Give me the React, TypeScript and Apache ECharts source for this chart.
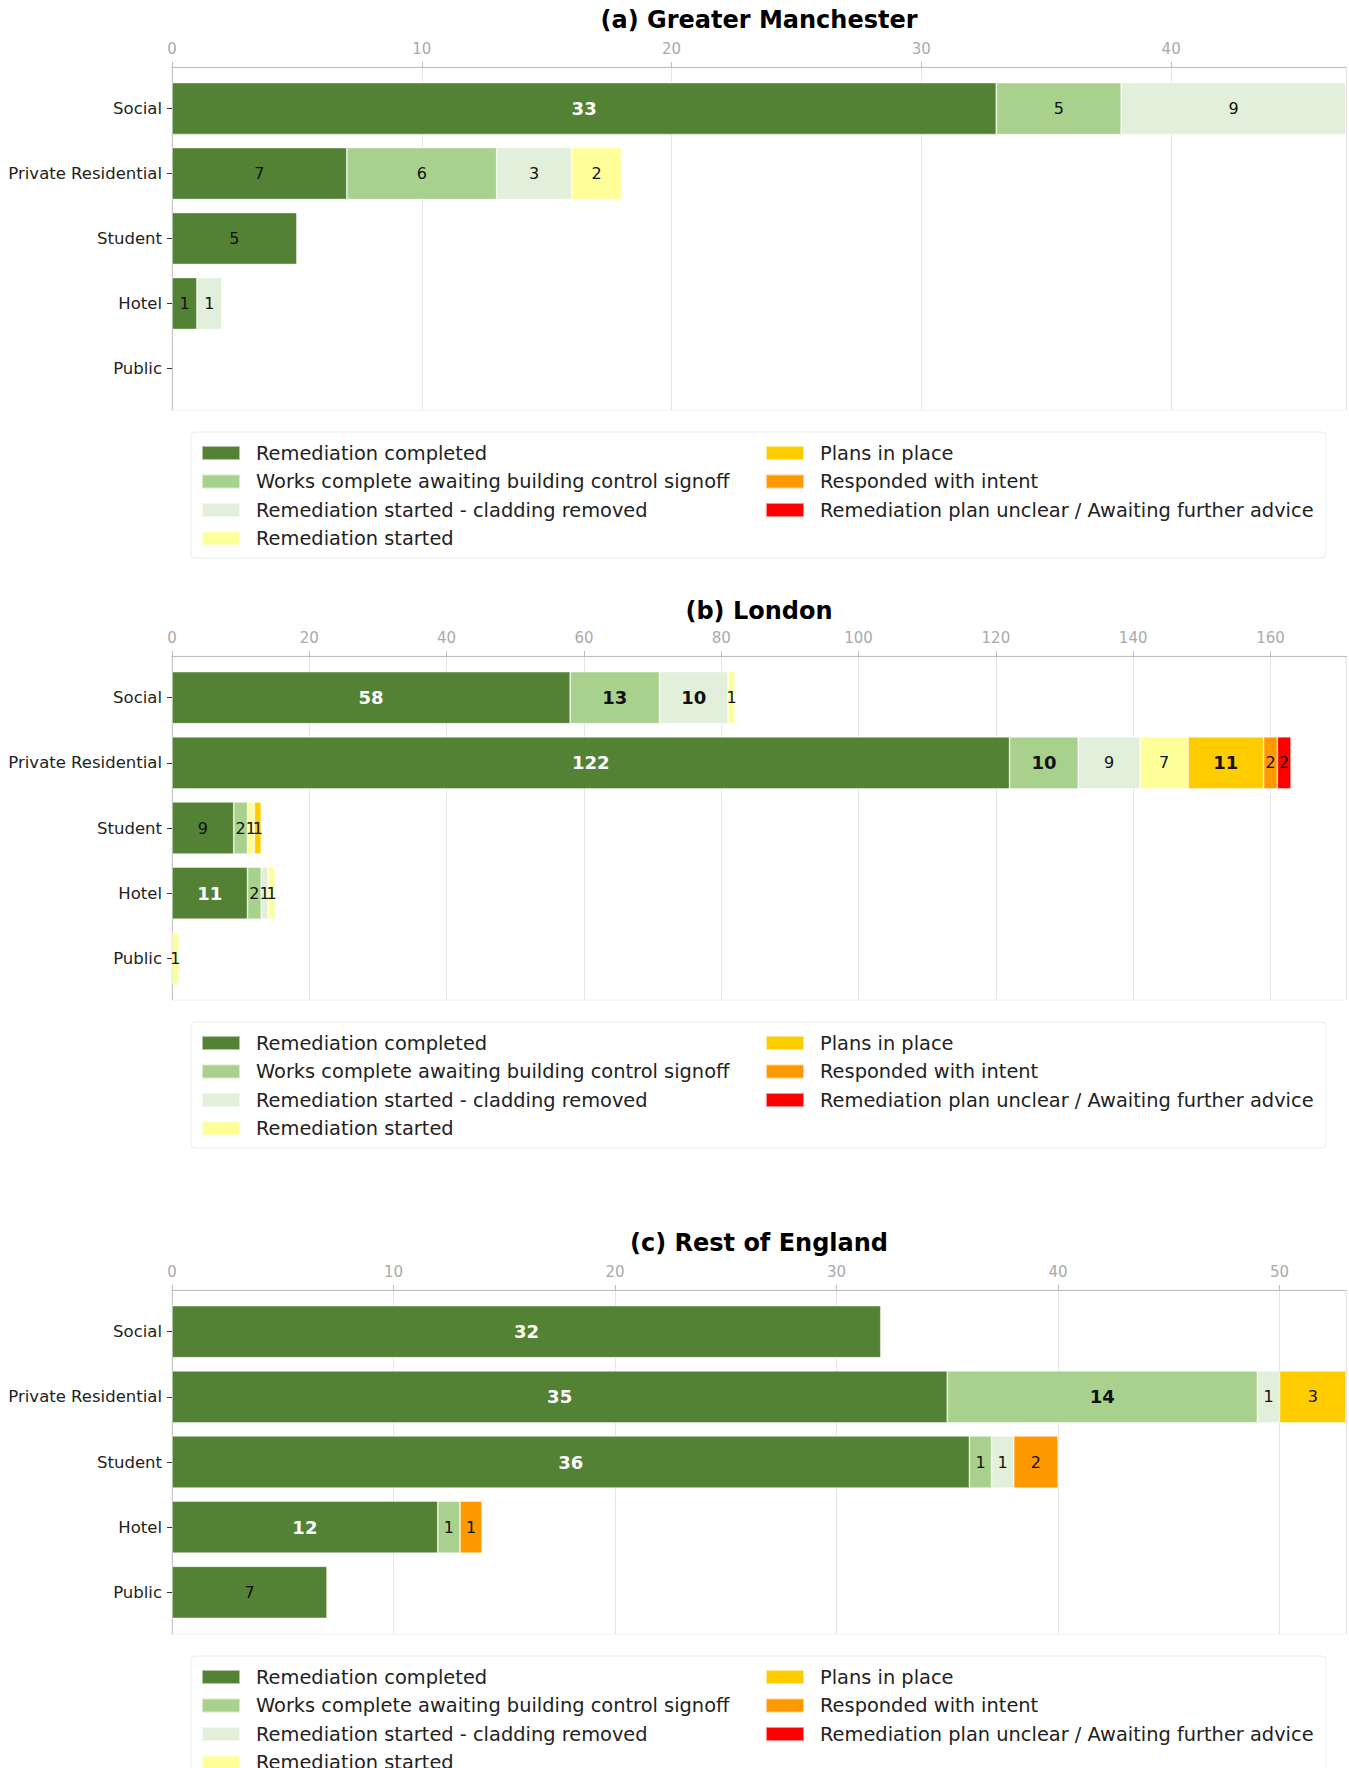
import React, { useEffect, useRef } from "react";
import * as echarts from "echarts";

// ---------- data ----------
const categories = ["Social", "Private Residential", "Student", "Hotel", "Public"];

const statusNames = [
  "Remediation completed",
  "Works complete awaiting building control signoff",
  "Remediation started - cladding removed",
  "Remediation started",
  "Plans in place",
  "Responded with intent",
  "Remediation plan unclear / Awaiting further advice",
];
const statusColors = ["#548235", "#A9D18E", "#E2EFDA", "#FFFF99", "#FFCC00", "#FF9900", "#FF0000"];

// (a) Greater Manchester
const gmCompleted = [33, 7, 5, 1, 0];
const gmWorksComplete = [5, 6, 0, 0, 0];
const gmCladdingRemoved = [9, 3, 0, 1, 0];
const gmStarted = [0, 2, 0, 0, 0];
const gmPlans = [0, 0, 0, 0, 0];
const gmIntent = [0, 0, 0, 0, 0];
const gmUnclear = [0, 0, 0, 0, 0];

// (b) London
const lonCompleted = [58, 122, 9, 11, 0];
const lonWorksComplete = [13, 10, 2, 2, 0];
const lonCladdingRemoved = [10, 9, 0, 1, 0];
const lonStarted = [1, 7, 1, 1, 1];
const lonPlans = [0, 11, 1, 0, 0];
const lonIntent = [0, 2, 0, 0, 0];
const lonUnclear = [0, 2, 0, 0, 0];

// (c) Rest of England
const restCompleted = [32, 35, 36, 12, 7];
const restWorksComplete = [0, 14, 1, 1, 0];
const restCladdingRemoved = [0, 1, 1, 0, 0];
const restStarted = [0, 0, 0, 0, 0];
const restPlans = [0, 3, 0, 0, 0];
const restIntent = [0, 0, 2, 1, 0];
const restUnclear = [0, 0, 0, 0, 0];

const panelTitles = ["(a) Greater Manchester", "(b) London", "(c) Rest of England"];
const axisMax = [47, 171, 53];
const axisInterval = [10, 20, 10];

const panelData = [
  [gmCompleted, gmWorksComplete, gmCladdingRemoved, gmStarted, gmPlans, gmIntent, gmUnclear],
  [lonCompleted, lonWorksComplete, lonCladdingRemoved, lonStarted, lonPlans, lonIntent, lonUnclear],
  [restCompleted, restWorksComplete, restCladdingRemoved, restStarted, restPlans, restIntent, restUnclear],
];

// ---------- layout ----------
const FONT = "'DejaVu Sans', sans-serif";
const PLOT_LEFT = 172;
const PLOT_WIDTH = 1174;
const panelLayout = [
  { top: 67, bottom: 410, titleY: 20, legendRow: 453, boxTop: 432 },
  { top: 656, bottom: 1000, titleY: 611, legendRow: 1043, boxTop: 1022 },
  { top: 1290, bottom: 1634, titleY: 1243, legendRow: 1677, boxTop: 1656 },
];

function buildOption() {
  const grid: any[] = [];
  const xAxis: any[] = [];
  const yAxis: any[] = [];
  const series: any[] = [];
  const legend: any[] = [];
  const graphic: any[] = [];

  panelLayout.forEach((pl, i) => {
    const band = (pl.bottom - pl.top) / 5.28;
    // full plot area (axis line, gridlines)
    grid.push({
      left: PLOT_LEFT,
      width: PLOT_WIDTH,
      top: pl.top,
      height: pl.bottom - pl.top,
      show: true,
      borderColor: "#f0f0f0",
      borderWidth: 1,
    });
    // inner area (bars, categories)
    grid.push({
      left: PLOT_LEFT,
      width: PLOT_WIDTH,
      top: pl.top + 0.14 * band,
      height: 5 * band,
    });
    xAxis.push({
      gridIndex: 2 * i,
      type: "value",
      position: "top",
      min: 0,
      max: axisMax[i],
      interval: axisInterval[i],
      axisLine: { show: true, onZero: false, lineStyle: { color: "#bdbdbd", width: 1.2 } },
      axisTick: { show: true, length: 5, lineStyle: { color: "#bdbdbd" } },
      axisLabel: { color: "#aaaaaa", fontSize: 15, fontFamily: FONT, margin: 11, showMaxLabel: false },
      splitLine: { show: true, lineStyle: { color: "#e6e6e6", width: 1 } },
    });
    xAxis.push({
      gridIndex: 2 * i + 1,
      type: "value",
      min: 0,
      max: axisMax[i],
      show: false,
    });
    yAxis.push({
      gridIndex: 2 * i,
      type: "value",
      min: 0,
      max: 1,
      axisLine: { show: true, onZero: false, lineStyle: { color: "#c8c8c8", width: 1.2 } },
      axisTick: { show: false },
      axisLabel: { show: false },
      splitLine: { show: false },
    });
    yAxis.push({
      gridIndex: 2 * i + 1,
      type: "category",
      inverse: true,
      data: categories,
      axisLine: { show: false },
      axisTick: { show: true, alignWithLabel: true, length: 5, lineStyle: { color: "#333" } },
      axisLabel: { fontSize: 16.5, color: "#222", fontFamily: FONT, margin: 10 },
      splitLine: { show: false },
    });

    panelData[i].forEach((vals, si) => {
      series.push({
        type: "bar",
        name: statusNames[si],
        stack: "panel" + i,
        xAxisIndex: 2 * i + 1,
        yAxisIndex: 2 * i + 1,
        barWidth: "80%",
        silent: true,
        itemStyle: { color: statusColors[si], borderColor: "rgba(255,255,255,0.55)", borderWidth: 0.8 },
        label: {
          show: true,
          position: "inside",
          fontFamily: FONT,
          fontSize: 16,
          color: "#111",
          formatter: (p: any) => (p.value ? String(p.value) : ""),
        },
        data: vals.map((v) =>
          v === 0
            ? "-"
            : v >= 10
            ? { value: v, label: { fontSize: 18, fontWeight: "bold", color: si === 0 ? "#ffffff" : "#111" } }
            : v
        ),
      });
    });

    const legendCommon = {
      orient: "vertical",
      top: pl.legendRow - 11,
      height: 150,
      itemWidth: 38,
      itemHeight: 14,
      itemGap: 6.5,
      icon: "rect",
      padding: 0,
      selectedMode: false,
      textStyle: { fontFamily: FONT, fontSize: 19.4, color: "#222", lineHeight: 22, padding: [0, 0, 0, 11] },
    };
    legend.push({ ...legendCommon, left: 201, data: statusNames.slice(0, 4) });
    legend.push({ ...legendCommon, left: 765, data: statusNames.slice(4) });

    graphic.push({
      type: "rect",
      z: -10,
      shape: { x: 191, y: pl.boxTop, width: 1135, height: 126, r: 4 },
      style: { fill: "#ffffff", stroke: "#ebebeb", lineWidth: 1 },
    });
    graphic.push({
      type: "text",
      x: PLOT_LEFT + PLOT_WIDTH / 2,
      y: pl.titleY,
      style: {
        text: panelTitles[i],
        align: "center",
        verticalAlign: "middle",
        fontFamily: FONT,
        fontWeight: "bold",
        fontSize: 24,
        fill: "#000",
      },
    });
  });

  return {
    animation: false,
    backgroundColor: "#ffffff",
    grid,
    xAxis,
    yAxis,
    series,
    legend,
    graphic,
  };
}

export default function App() {
  const ref = useRef<HTMLDivElement>(null);
  useEffect(() => {
    document.body.style.margin = "0";
    document.body.style.overflow = "hidden";
    if (!ref.current) return;
    const chart = echarts.init(ref.current, null, { renderer: "svg", width: 1349, height: 1768 });
    chart.setOption(buildOption() as any);
    return () => chart.dispose();
  }, []);
  return <div ref={ref} style={{ width: 1349, height: 1768 }} />;
}
